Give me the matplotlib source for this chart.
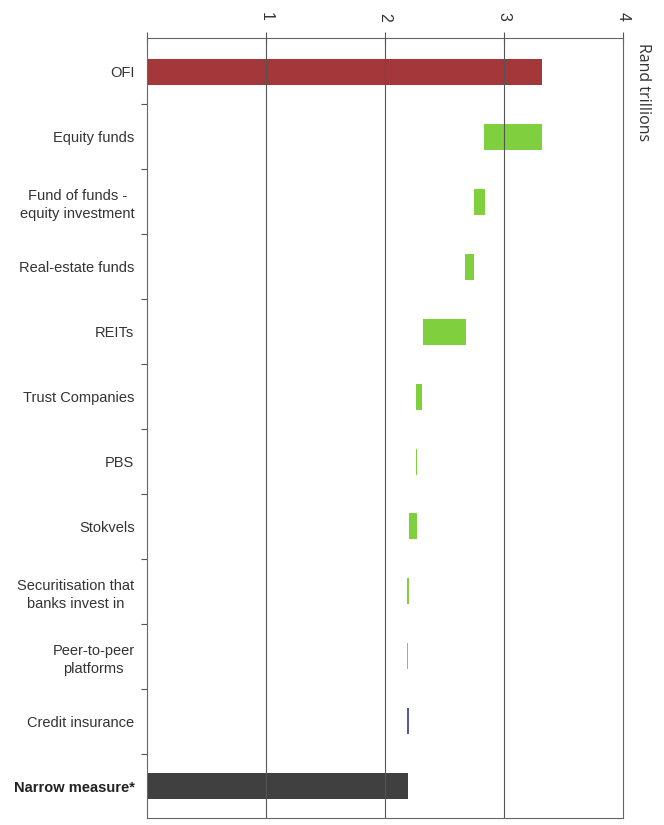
import matplotlib.pyplot as plt
import numpy as np

plt.rcParams['font.family'] = ['Liberation Sans', 'DejaVu Sans']

categories = ["OFI", "Equity funds", "Fund of funds -\nequity investment",
              "Real-estate funds", "REITs", "Trust Companies", "PBS", "Stokvels",
              "Securitisation that\nbanks invest in", "Peer-to-peer\nplatforms",
              "Credit insurance", "Narrow measure*"]
# bar spans in rand trillions (waterfall from total OFI to narrow measure)
span_low = [0.0, 2.83, 2.748, 2.672, 2.317, 2.261, 2.257, 2.202, 2.187, 2.185, 2.188, 0.0]
span_high = [3.318, 3.318, 2.838, 2.75, 2.681, 2.314, 2.265, 2.266, 2.204, 2.193, 2.205, 2.196]
kinds = ["total", "deduct", "deduct", "deduct", "deduct", "deduct", "deduct",
         "deduct", "deduct", "deduct", "add", "result"]
x_ticks = [0, 1, 2, 3, 4]
x_tick_labels = ["", "1", "2", "3", "4"]

colors = {"total": "#a4373a", "deduct": "#7fcf3f", "add": "#5a5aa0", "result": "#404040"}

fig = plt.figure(figsize=(6.64, 8.25), dpi=100)
ax = fig.add_axes([147/664, 1 - 818/825, (623 - 147)/664, (818 - 38)/825])

y = np.arange(len(categories))
low = np.array(span_low)
high = np.array(span_high)
ax.barh(y, high - low, left=low, height=0.4,
        color=[colors[k] for k in kinds], zorder=2)

ax.set_xlim(0, 4)
ax.set_ylim(11.49, -0.523)

for v in [1, 2, 3]:
    ax.axvline(v, color="#555555", lw=0.8, zorder=3)

ax.xaxis.tick_top()
ax.set_xticks(x_ticks)
ax.set_xticklabels(x_tick_labels, rotation=270, fontsize=11.5, color="#333333")
ax.tick_params(axis="x", direction="inout", length=8, width=0.8, color="#555555", pad=8)

ax.set_yticks(y)
ax.set_yticklabels(categories, fontsize=10.5, color="#333333", linespacing=1.35,
                   multialignment="center")
ax.tick_params(axis="y", length=0, pad=9)
ax.set_yticks(y[:-1] + 0.5, minor=True)
ax.tick_params(axis="y", which="minor", direction="out", length=4, width=0.8, color="#555555")
for lbl in ax.get_yticklabels():
    if lbl.get_text().startswith("Narrow"):
        lbl.set_fontweight("bold")
        lbl.set_color("#222222")

for s in ax.spines.values():
    s.set_color("#666666")
    s.set_linewidth(0.8)

fig.text(635/664, 1 - 92/825, "Rand trillions", rotation=270, fontsize=11.5,
         family=["Open Sans", "DejaVu Sans"], color="#333333",
         ha="left", va="center")

fig.savefig("out.png", dpi=100)
